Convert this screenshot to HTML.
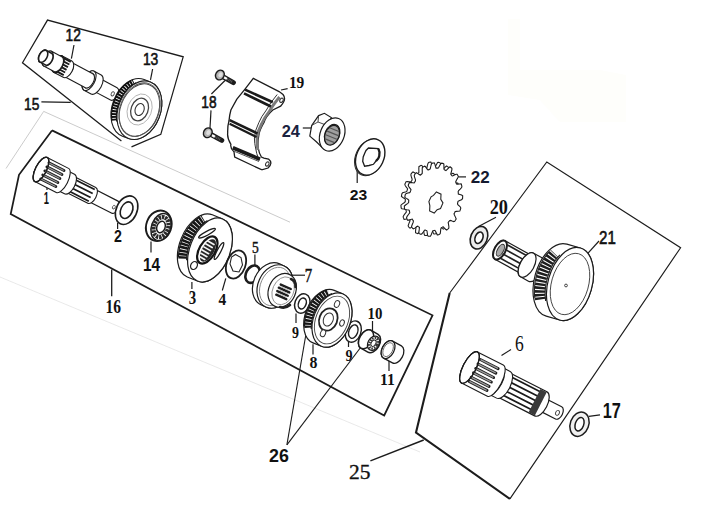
<!DOCTYPE html><html><head><meta charset="utf-8"><style>html,body{margin:0;padding:0;background:#fff;width:710px;height:512px;overflow:hidden}svg{display:block}</style></head><body><svg width="710" height="512" viewBox="0 0 710 512"><path d="M508,19 L520,19 L520,70 L600,70 L626,75 L626,122 L560,122 L540,100 L508,95 Z" fill="#fefefb" stroke="none"/><polyline points="6,168.5 43.7,111.4 290,222.2" fill="none" stroke="#a8a8a8" stroke-width="0.6" stroke-linejoin="miter" /><polyline points="0,277 420,452" fill="none" stroke="#d2d2d2" stroke-width="0.5" stroke-linejoin="miter" /><polyline points="121.4,141.1 22.5,62.8 47.5,20.1 183.2,56.8 160.8,134.4 131.5,146.8" fill="none" stroke="#1c1c1c" stroke-width="1.25" stroke-linejoin="miter" /><line x1="41.4" y1="101.9" x2="70.7" y2="102.3" stroke="#1c1c1c" stroke-width="1.3" /><text x="0" y="0" transform="translate(24,110.33) scale(0.79,1)" font-family="Liberation Sans" font-weight="normal" font-size="17.43" fill="#111" stroke="#111" stroke-width="0.6">15</text><line x1="74" y1="45" x2="71.4" y2="58.6" stroke="#1c1c1c" stroke-width="1.2" /><text x="0" y="0" transform="translate(65.5,41) scale(0.79,1)" font-family="Liberation Sans" font-weight="normal" font-size="17.43" fill="#111" stroke="#111" stroke-width="0.6">12</text><line x1="152.6" y1="69" x2="150.5" y2="79.8" stroke="#1c1c1c" stroke-width="1.2" /><text x="0" y="0" transform="translate(142.9,64.63) scale(0.82,1)" font-family="Liberation Sans" font-weight="normal" font-size="16.9" fill="#111" stroke="#111" stroke-width="0.6">13</text><polyline points="52,130.4 432.5,315.3 384.2,415.5 10.7,214 19,174.8 52,130.4" fill="none" stroke="#1c1c1c" stroke-width="1.75" stroke-linejoin="miter" /><line x1="111.7" y1="269.6" x2="111.7" y2="296.2" stroke="#1c1c1c" stroke-width="1.3" /><text x="0" y="0" transform="translate(105.4,312.52) scale(0.86,1)" font-family="Liberation Serif" font-weight="bold" font-size="18.06" fill="#111">16</text><polyline points="449.7,293 546.8,162 680.6,247.7 509.9,498.9" fill="none" stroke="#1c1c1c" stroke-width="1.15" stroke-linejoin="miter" /><polyline points="449.7,293 416,432.5 509.9,498.9" fill="none" stroke="#1c1c1c" stroke-width="2.1" stroke-linejoin="miter" /><line x1="370.4" y1="460.9" x2="423.7" y2="440" stroke="#1c1c1c" stroke-width="1.5" /><text x="0" y="0" transform="translate(348.9,478.9) scale(1.05,1)" font-family="Liberation Serif" font-weight="normal" font-size="20.45" fill="#111" stroke="#111" stroke-width="0.35">25</text><text x="0" y="0" transform="translate(43.8,203.7) scale(0.55,1)" font-family="Liberation Sans" font-weight="bold" font-size="16.96" fill="#111">1</text><line x1="47" y1="184.7" x2="47" y2="190" stroke="#1c1c1c" stroke-width="1.2" /><text x="0" y="0" transform="translate(114.1,242.1) scale(0.85,1)" font-family="Liberation Sans" font-weight="bold" font-size="16.71" fill="#111">2</text><line x1="117.6" y1="223" x2="117.6" y2="229" stroke="#1c1c1c" stroke-width="1.2" /><text x="0" y="0" transform="translate(142.9,270.9) scale(0.87,1)" font-family="Liberation Sans" font-weight="bold" font-size="17.68" fill="#111">14</text><line x1="151" y1="241.4" x2="151" y2="252.6" stroke="#1c1c1c" stroke-width="1.2" /><text x="0" y="0" transform="translate(188.8,303.52) scale(0.83,1)" font-family="Liberation Serif" font-weight="bold" font-size="17.91" fill="#111">3</text><line x1="191.9" y1="281.9" x2="191.9" y2="289" stroke="#1c1c1c" stroke-width="1.2" /><text x="0" y="0" transform="translate(218.4,304.7) scale(0.88,1)" font-family="Liberation Serif" font-weight="bold" font-size="17.58" fill="#111">4</text><line x1="225.8" y1="278.4" x2="222.3" y2="290.5" stroke="#1c1c1c" stroke-width="1.2" /><text x="0" y="0" transform="translate(251.9,253.03) scale(0.81,1)" font-family="Liberation Serif" font-weight="normal" font-size="16.69" fill="#111" stroke="#111" stroke-width="0.45">5</text><line x1="254.9" y1="254.5" x2="254.9" y2="265.5" stroke="#1c1c1c" stroke-width="1.2" /><text x="0" y="0" transform="translate(304.7,282.3) scale(0.83,1)" font-family="Liberation Serif" font-weight="normal" font-size="17.86" fill="#111" stroke="#111" stroke-width="0.45">7</text><line x1="291.9" y1="275.2" x2="305" y2="275.2" stroke="#1c1c1c" stroke-width="1.2" /><text x="0" y="0" transform="translate(292,337.63) scale(0.82,1)" font-family="Liberation Serif" font-weight="bold" font-size="17.01" fill="#111">9</text><line x1="296" y1="313.5" x2="296" y2="323" stroke="#1c1c1c" stroke-width="1.2" /><text x="0" y="0" transform="translate(309.6,368.33) scale(0.94,1)" font-family="Liberation Serif" font-weight="bold" font-size="16.89" fill="#111">8</text><line x1="313" y1="344.3" x2="313" y2="354.5" stroke="#1c1c1c" stroke-width="1.2" /><text x="0" y="0" transform="translate(345.6,361.33) scale(0.83,1)" font-family="Liberation Serif" font-weight="bold" font-size="17.01" fill="#111">9</text><line x1="348.5" y1="341" x2="348.5" y2="347" stroke="#1c1c1c" stroke-width="1.2" /><text x="0" y="0" transform="translate(367.6,319.13) scale(0.88,1)" font-family="Liberation Serif" font-weight="bold" font-size="16.89" fill="#111">10</text><line x1="372.5" y1="321" x2="372.5" y2="331.6" stroke="#1c1c1c" stroke-width="1.2" /><text x="0" y="0" transform="translate(379.9,385.2) scale(0.91,1)" font-family="Liberation Serif" font-weight="bold" font-size="17.27" fill="#111">11</text><line x1="389" y1="360" x2="389" y2="371" stroke="#1c1c1c" stroke-width="1.2" /><text x="0" y="0" transform="translate(269,461.91) scale(0.96,1)" font-family="Liberation Sans" font-weight="bold" font-size="18.59" fill="#111">26</text><line x1="286.9" y1="444.8" x2="306.5" y2="331" stroke="#1c1c1c" stroke-width="1.1" /><line x1="286.9" y1="444.8" x2="365.5" y2="341" stroke="#1c1c1c" stroke-width="1.1" /><text x="0" y="0" transform="translate(201.3,107.54) scale(0.84,1)" font-family="Liberation Sans" font-weight="normal" font-size="16.34" fill="#111" stroke="#111" stroke-width="0.6">18</text><line x1="211.4" y1="94" x2="225" y2="80.5" stroke="#1c1c1c" stroke-width="1.2" /><line x1="211" y1="110.4" x2="210" y2="128" stroke="#1c1c1c" stroke-width="1.2" /><text x="0" y="0" transform="translate(288.9,87.82) scale(0.87,1)" font-family="Liberation Serif" font-weight="bold" font-size="17.76" fill="#111">19</text><line x1="281" y1="90" x2="287.6" y2="88.7" stroke="#1c1c1c" stroke-width="1.2" /><text x="0" y="0" transform="translate(281.7,136.6) scale(0.99,1)" font-family="Liberation Sans" font-weight="bold" font-size="16.57" fill="#1a2240">24</text><line x1="302.8" y1="128" x2="311" y2="128" stroke="#1c1c1c" stroke-width="1.2" /><text x="0" y="0" transform="translate(349.8,200.45) scale(1.03,1)" font-family="Liberation Sans" font-weight="bold" font-size="15.21" fill="#111">23</text><line x1="357.2" y1="170" x2="357.2" y2="183" stroke="#1c1c1c" stroke-width="1.2" /><text x="0" y="0" transform="translate(470.7,182.7) scale(1,1)" font-family="Liberation Sans" font-weight="bold" font-size="17" fill="#141a30">22</text><line x1="458.4" y1="176.9" x2="466" y2="176.9" stroke="#1c1c1c" stroke-width="1.2" /><text x="0" y="0" transform="translate(489.7,213.99) scale(0.85,1)" font-family="Liberation Serif" font-weight="bold" font-size="21.48" fill="#111">20</text><line x1="496" y1="217.3" x2="478" y2="226.7" stroke="#1c1c1c" stroke-width="1.2" /><text x="0" y="0" transform="translate(599,243.7) scale(0.79,1)" font-family="Liberation Sans" font-weight="normal" font-size="19.14" fill="#111" stroke="#111" stroke-width="0.6">21</text><line x1="586.9" y1="254.4" x2="599" y2="241" stroke="#1c1c1c" stroke-width="1.2" /><text x="0" y="0" transform="translate(515,350.51) scale(0.74,1)" font-family="Liberation Serif" font-weight="normal" font-size="23.66" fill="#111">6</text><line x1="501.5" y1="355.5" x2="511" y2="349.5" stroke="#1c1c1c" stroke-width="1.2" /><text x="0" y="0" transform="translate(602.7,417.5) scale(0.74,1)" font-family="Liberation Sans" font-weight="bold" font-size="22.03" fill="#111">17</text><line x1="588.9" y1="416.4" x2="600" y2="414.8" stroke="#1c1c1c" stroke-width="1.2" /><g transform="translate(42.3,55.8) rotate(28)"><path d="M61,-7 L81,-7 A4.2,7 0 0 1 81,7 L61,7 A4.2,7 0 0 1 61,-7 Z" fill="#fff" stroke="#1c1c1c" stroke-width="1.1"/><ellipse cx="61" cy="0" rx="4.2" ry="7" fill="#fff" stroke="#1c1c1c" stroke-width="1.1"/><ellipse cx="80" cy="0.5" rx="1.5" ry="2.2" fill="none" stroke="#444" stroke-width="0.9"/><path d="M53,-10.8 L61,-10.8 A5.5,10.8 0 0 1 61,10.8 L53,10.8 A5.5,10.8 0 0 1 53,-10.8 Z" fill="#fff" stroke="#1c1c1c" stroke-width="1.1"/><ellipse cx="53" cy="0" rx="5.5" ry="10.8" fill="#fff" stroke="#1c1c1c" stroke-width="1.1"/><ellipse cx="53" cy="0" rx="4" ry="8.6" fill="none" stroke="#555" stroke-width="0.7"/><path d="M28.6,-7.9 L53,-7.9 A4.5,7.9 0 0 1 53,7.9 L28.6,7.9 A4.5,7.9 0 0 1 28.6,-7.9 Z" fill="#fff" stroke="#1c1c1c" stroke-width="1.1"/><ellipse cx="28.6" cy="0" rx="4.5" ry="7.9" fill="#fff" stroke="#1c1c1c" stroke-width="1.1"/><path d="M17.7,-9.2 L28.6,-9.2 A5,9.2 0 0 1 28.6,9.2 L17.7,9.2 A5,9.2 0 0 1 17.7,-9.2 Z" fill="#fff" stroke="#1c1c1c" stroke-width="1.1"/><ellipse cx="17.7" cy="0" rx="5" ry="9.2" fill="#fff" stroke="#1c1c1c" stroke-width="1.1"/><path d="M19,-8 L28,-8 M18,-5 L28,-5 M17.5,-2 L28,-2 M17.5,1 L28,1 M18,4 L28,4 M19,7 L28,7" stroke="#1a1a1a" stroke-width="1.9"/><ellipse cx="17.7" cy="0" rx="5" ry="9.2" fill="none" stroke="#1c1c1c" stroke-width="1.1"/><path d="M6,-8.3 L17.7,-8.3 A4.6,8.3 0 0 1 17.7,8.3 L6,8.3 A4.6,8.3 0 0 1 6,-8.3 Z" fill="#fff" stroke="#1c1c1c" stroke-width="1.1"/><ellipse cx="6" cy="0" rx="4.6" ry="8.3" fill="#fff" stroke="#1c1c1c" stroke-width="1.1"/><path d="M1,-6.6 L7,-6.6 A3.9,6.6 0 0 1 7,6.6 L1,6.6 A3.9,6.6 0 0 1 1,-6.6 Z" fill="#fff" stroke="#1c1c1c" stroke-width="1.6"/><ellipse cx="1" cy="0" rx="3.9" ry="6.6" fill="#fff" stroke="#1c1c1c" stroke-width="1.6"/></g><g transform="translate(139.4,110.2) rotate(21)"><path d="M-6.5,-30.3 L0,-30.3 A21,30.3 0 0 1 0,30.3 L-6.5,30.3 A21,30.3 0 0 1 -6.5,-30.3 Z" fill="#fff" stroke="#1c1c1c" stroke-width="1.1"/><path d="M-19.8,18.65 A21,30.3 0 0 1 -15.59,-24.51" fill="none" stroke="#101010" stroke-width="5.5" stroke-dasharray="2 0.8"/><path d="M-17.2,18.65 A21,30.3 0 0 1 -12.99,-24.51" fill="none" stroke="#101010" stroke-width="1.1"/><path d="M-22.4,18.65 A21,30.3 0 0 1 -18.19,-24.51" fill="none" stroke="#101010" stroke-width="1.1"/><ellipse cx="0" cy="0" rx="21" ry="30.3" fill="#fff" stroke="#1c1c1c" stroke-width="1.1"/><ellipse cx="0" cy="0" rx="18.9" ry="27.27" fill="none" stroke="#444" stroke-width="0.9"/></g><g transform="translate(139.6,109.5) rotate(21)"><ellipse rx="19.5" ry="27.5" fill="none" stroke="#555" stroke-width="0.9"/><ellipse rx="12" ry="16" fill="none" stroke="#aaa" stroke-width="0.8"/><ellipse rx="8.5" ry="11.7" fill="#fff" stroke="#444" stroke-width="1.3"/><ellipse rx="4.4" ry="6.2" fill="#fff" stroke="#333" stroke-width="1.1"/></g><g transform="translate(41,169.5) rotate(27)"><path d="M57,-6.8 L83,-6.8 A3.6,6.8 0 0 1 83,6.8 L57,6.8 A3.6,6.8 0 0 1 57,-6.8 Z" fill="#fff" stroke="#1c1c1c" stroke-width="1.2"/><ellipse cx="57" cy="0" rx="3.6" ry="6.8" fill="#fff" stroke="#1c1c1c" stroke-width="1.2"/><ellipse cx="82" cy="0.5" rx="1.3" ry="2" fill="none" stroke="#444" stroke-width="0.8"/><path d="M31,-8.8 L57,-8.8 A4.5,8.8 0 0 1 57,8.8 L31,8.8 A4.5,8.8 0 0 1 31,-8.8 Z" fill="#fff" stroke="#1c1c1c" stroke-width="1.1"/><ellipse cx="31" cy="0" rx="4.5" ry="8.8" fill="#fff" stroke="#1c1c1c" stroke-width="1.1"/><path d="M33,-6.5 L57,-6.5 M33,-2 L57,-2 M33,2.5 L57,2.5 M34,6.5 L57,6.5" stroke="#1a1a1a" stroke-width="1.7"/><path d="M23,-11 L32,-11 A5.5,11 0 0 1 32,11 L23,11 A5.5,11 0 0 1 23,-11 Z" fill="#fff" stroke="#1c1c1c" stroke-width="1.1"/><ellipse cx="23" cy="0" rx="5.5" ry="11" fill="#fff" stroke="#1c1c1c" stroke-width="1.1"/><path d="M0,-13.5 L24,-13.5 A5.5,13.5 0 0 1 24,13.5 L0,13.5 A5.5,13.5 0 0 1 0,-13.5 Z" fill="#fff" stroke="#1c1c1c" stroke-width="1.1"/><ellipse cx="0" cy="0" rx="5.5" ry="13.5" fill="#fff" stroke="#1c1c1c" stroke-width="1.1"/><line x1="4" y1="-9.5" x2="21" y2="-9.5" stroke="#1c1c1c" stroke-width="2.8" stroke-linecap="round"/><line x1="4.8" y1="-9.5" x2="20.2" y2="-9.5" stroke="#9a9a9a" stroke-width="1.1999999999999997" stroke-linecap="round"/><line x1="4" y1="-5" x2="21" y2="-5" stroke="#1c1c1c" stroke-width="2.8" stroke-linecap="round"/><line x1="4.8" y1="-5" x2="20.2" y2="-5" stroke="#9a9a9a" stroke-width="1.1999999999999997" stroke-linecap="round"/><line x1="4" y1="-0.5" x2="21" y2="-0.5" stroke="#1c1c1c" stroke-width="2.8" stroke-linecap="round"/><line x1="4.8" y1="-0.5" x2="20.2" y2="-0.5" stroke="#9a9a9a" stroke-width="1.1999999999999997" stroke-linecap="round"/><line x1="4" y1="4" x2="21" y2="4" stroke="#1c1c1c" stroke-width="2.8" stroke-linecap="round"/><line x1="4.8" y1="4" x2="20.2" y2="4" stroke="#9a9a9a" stroke-width="1.1999999999999997" stroke-linecap="round"/><line x1="4" y1="8.5" x2="21" y2="8.5" stroke="#1c1c1c" stroke-width="2.8" stroke-linecap="round"/><line x1="4.8" y1="8.5" x2="20.2" y2="8.5" stroke="#9a9a9a" stroke-width="1.1999999999999997" stroke-linecap="round"/><ellipse cx="0" cy="0" rx="5.5" ry="13.5" fill="none" stroke="#1c1c1c" stroke-width="1.4"/></g><g transform="translate(126.6,210.2) rotate(25)"><ellipse rx="10.3" ry="15" fill="#fff" stroke="#1c1c1c" stroke-width="1.6"/><ellipse rx="5.8" ry="8.7" fill="#fff" stroke="#1c1c1c" stroke-width="1.6"/></g><g transform="translate(158.8,225.8) rotate(20)"><ellipse rx="12.5" ry="15.6" fill="#fff" stroke="#1c1c1c" stroke-width="1.9"/><ellipse rx="0.1" ry="0.1" fill="#fff" stroke="#1c1c1c" stroke-width="1.9"/></g><g transform="translate(161,227) rotate(20)"><ellipse rx="9.5" ry="14" fill="#fff" stroke="#1c1c1c" stroke-width="1.5"/><ellipse rx="7.2" ry="10.2" fill="none" stroke="#2a2a2a" stroke-width="4.4" stroke-dasharray="2.4 0.8"/><ellipse rx="4.1" ry="6" fill="#fff" stroke="#1c1c1c" stroke-width="1.5"/></g><g transform="translate(210,250) rotate(22)"><path d="M-11,-33.5 L0,-33.5 A20,33.5 0 0 1 0,33.5 L-11,33.5 A20,33.5 0 0 1 -11,-33.5 Z" fill="#fff" stroke="#1c1c1c" stroke-width="1.2"/><path d="M-22.27,18.25 A20,33.5 0 0 1 -17.81,-26.4" fill="none" stroke="#161616" stroke-width="8.5" stroke-dasharray="2.5 0.75"/><path d="M-17.87,18.25 A20,33.5 0 0 1 -13.41,-26.4" fill="none" stroke="#161616" stroke-width="1.1"/><path d="M-26.67,18.25 A20,33.5 0 0 1 -22.21,-26.4" fill="none" stroke="#161616" stroke-width="1.1"/><ellipse cx="0" cy="0" rx="20" ry="33.5" fill="#fff" stroke="#1c1c1c" stroke-width="1.2"/></g><g transform="translate(207.3,250) rotate(30)"><ellipse rx="8" ry="15" fill="#fff" stroke="#141414" stroke-width="2.2"/><ellipse cx="0.8" rx="6" ry="12.5" fill="#262626" stroke="none"/><path d="M-4,-8 L3,-8 M-4.5,-4.5 L3,-4.5 M-4.5,-1 L3,-1 M-4.5,2.5 L3,2.5 M-4,6 L3,6 M-3,9.5 L2.5,9.5" stroke="#f4f4f4" stroke-width="1.7" stroke-linecap="round"/></g><ellipse cx="0" cy="0" rx="9.5" ry="1.9" transform="translate(207,233.3) rotate(-28)" fill="#fff" stroke="#1c1c1c" stroke-width="1.2" /><ellipse cx="0" cy="0" rx="9.5" ry="1.9" transform="translate(219,251) rotate(-62)" fill="#fff" stroke="#1c1c1c" stroke-width="1.2" /><ellipse cx="0" cy="0" rx="3.2" ry="4.2" transform="translate(194,265.5) rotate(30)" fill="#fff" stroke="#222" stroke-width="1.2" /><g transform="translate(236,264.5) rotate(20)"><ellipse rx="9.4" ry="14.6" fill="#fff" stroke="#1c1c1c" stroke-width="1.8"/><ellipse rx="0.1" ry="0.1" fill="#fff" stroke="#1c1c1c" stroke-width="1.8"/></g><polygon points="235.5,254.5 241,257.5 242.5,265 239,272 233,271 230,264 231.5,257" fill="#fff" stroke="#222" stroke-width="1.1"/><ellipse cx="0" cy="0" rx="6.6" ry="9.2" transform="translate(252.6,274.2) rotate(28)" fill="none" stroke="#1c1c1c" stroke-width="2.6" /><g transform="translate(275,286.5) rotate(24)"><path d="M-5,-22.5 L0,-22.5 A17,22.5 0 0 1 0,22.5 L-5,22.5 A17,22.5 0 0 1 -5,-22.5 Z" fill="#fff" stroke="#1c1c1c" stroke-width="1.2"/><ellipse rx="17" ry="22.5" fill="#fff" stroke="#1c1c1c" stroke-width="1.2"/><ellipse rx="14.5" ry="20" fill="none" stroke="#777" stroke-width="0.8"/></g><g transform="translate(282.2,290.4) rotate(24)"><ellipse rx="13.5" ry="17.5" fill="#fff" stroke="#1c1c1c" stroke-width="1.2"/><ellipse cx="1" rx="10.5" ry="14.5" fill="none" stroke="#888" stroke-width="0.8"/></g><g transform="translate(284,292) rotate(24)"><path d="M-6,-5.5 L5,-5.5 M-6.5,-1.8 L5,-1.8 M-6.5,1.9 L5,1.9 M-6,5.6 L5,5.6" stroke="#1e1e1e" stroke-width="2.4" stroke-linecap="round"/><path d="M-5,-3.6 L4,-3.6 M-5.5,0 L4,0 M-5,3.7 L4,3.7" stroke="#bbb" stroke-width="1" stroke-linecap="round"/></g><path d="M291,279 Q296,281 295.5,287" fill="none" stroke="#222" stroke-width="2.6" stroke-linecap="round"/><path d="M280,307 Q285,309 290,305" fill="none" stroke="#222" stroke-width="2.6" stroke-linecap="round"/><g transform="translate(302.3,303.5) rotate(20)"><ellipse rx="7.4" ry="10" fill="#fff" stroke="#1c1c1c" stroke-width="1.5"/><ellipse rx="3.8" ry="5.6" fill="#fff" stroke="#1c1c1c" stroke-width="1.5"/></g><g transform="translate(353.3,331.6) rotate(20)"><ellipse rx="7.6" ry="11" fill="#fff" stroke="#1c1c1c" stroke-width="1.4"/><ellipse rx="4.4" ry="7" fill="#fff" stroke="#1c1c1c" stroke-width="1.4"/></g><g transform="translate(332,320) rotate(22)"><path d="M-9,-28.3 L0,-28.3 A18.3,28.3 0 0 1 0,28.3 L-9,28.3 A18.3,28.3 0 0 1 -9,-28.3 Z" fill="#fff" stroke="#1c1c1c" stroke-width="1.2"/><path d="M-19.49,16.23 A18.3,28.3 0 0 1 -13.65,-24.51" fill="none" stroke="#161616" stroke-width="7" stroke-dasharray="2.3 0.8"/><path d="M-15.89,16.23 A18.3,28.3 0 0 1 -10.05,-24.51" fill="none" stroke="#161616" stroke-width="1.1"/><path d="M-23.09,16.23 A18.3,28.3 0 0 1 -17.25,-24.51" fill="none" stroke="#161616" stroke-width="1.1"/><ellipse cx="0" cy="0" rx="18.3" ry="28.3" fill="#fff" stroke="#1c1c1c" stroke-width="1.2"/><ellipse cx="0" cy="0" rx="16.1" ry="24.9" fill="none" stroke="#444" stroke-width="0.9"/></g><g transform="translate(328.3,319.5) rotate(22)"><ellipse rx="9" ry="11.5" fill="#fff" stroke="#222" stroke-width="1.8"/><ellipse rx="4.8" ry="6.8" fill="#fff" stroke="#333" stroke-width="1"/></g><ellipse cx="0" cy="0" rx="2.5" ry="3.5" transform="translate(337,304) rotate(22)" fill="#fff" stroke="#333" stroke-width="1" /><ellipse cx="0" cy="0" rx="2.5" ry="3.5" transform="translate(323,333.3) rotate(22)" fill="#fff" stroke="#333" stroke-width="1" /><ellipse cx="0" cy="0" rx="2.2" ry="3.2" transform="translate(342,323) rotate(22)" fill="#fff" stroke="#333" stroke-width="1" /><g transform="translate(369.5,341.3) rotate(30)"><path d="M-4,-10.3 L4,-10.3 A6.5,10.3 0 0 1 4,10.3 L-4,10.3 A6.5,10.3 0 0 1 -4,-10.3 Z" fill="#fff" stroke="#1c1c1c" stroke-width="1.5"/><ellipse cx="-4" rx="6.5" ry="10.3" fill="#fff" stroke="#1c1c1c" stroke-width="1.5"/></g><g transform="translate(373.5,343.2) rotate(30)"><ellipse rx="5.5" ry="7.6" fill="#fff" stroke="#1c1c1c" stroke-width="1.3"/><ellipse rx="3.8" ry="5.6" fill="none" stroke="#333" stroke-width="2.4" stroke-dasharray="1.5 1"/><ellipse rx="2.2" ry="3.4" fill="#fff" stroke="#222" stroke-width="1"/></g><g transform="translate(392.5,352) rotate(28)"><path d="M-5,-9.6 L5,-9.6 A6,9.6 0 0 1 5,9.6 L-5,9.6 A6,9.6 0 0 1 -5,-9.6 Z" fill="#fff" stroke="#1c1c1c" stroke-width="1.3"/><ellipse cx="-5" cy="0" rx="6" ry="9.6" fill="#fff" stroke="#1c1c1c" stroke-width="1.3"/><ellipse cx="-5" rx="4.5" ry="7.5" fill="none" stroke="#555" stroke-width="0.8"/></g><line x1="219.9" y1="75" x2="233.4" y2="82.6" stroke="#1c1c1c" stroke-width="5" stroke-linecap="round"/><line x1="222.9" y1="76.6" x2="232.4" y2="82.0" stroke="#666" stroke-width="2.4" stroke-dasharray="0.9 0.7"/><line x1="221.9" y1="76.2" x2="226.9" y2="78.9" stroke="#fff" stroke-width="2.2"/><ellipse cx="0" cy="0" rx="4.2" ry="5" transform="translate(219.9,75) rotate(30)" fill="#b4b4b4" stroke="#1c1c1c" stroke-width="1.4" /><ellipse cx="0" cy="0" rx="2" ry="2.6" transform="translate(220.5,74.7) rotate(30)" fill="#dedede" stroke="none" stroke-width="0" /><line x1="207.8" y1="132.8" x2="221.8" y2="140.4" stroke="#1c1c1c" stroke-width="5" stroke-linecap="round"/><line x1="210.8" y1="134.4" x2="220.8" y2="139.8" stroke="#666" stroke-width="2.4" stroke-dasharray="0.9 0.7"/><line x1="209.8" y1="134.0" x2="214.8" y2="136.70000000000002" stroke="#fff" stroke-width="2.2"/><ellipse cx="0" cy="0" rx="4.2" ry="5" transform="translate(207.8,132.8) rotate(30)" fill="#b4b4b4" stroke="#1c1c1c" stroke-width="1.4" /><ellipse cx="0" cy="0" rx="2" ry="2.6" transform="translate(208.4,132.5) rotate(30)" fill="#dedede" stroke="none" stroke-width="0" /><path d="M253.3,78.4 L279.1,91.6 L283,94.5 Q287,99.5 280.6,106.2 L272.8,110 Q266,116 263.9,122.7 Q259.5,130 258.8,135.4 Q257.5,142 258.2,148 Q259,153 261.4,157 L263.9,158.2 L268.5,159 Q273.5,163 268,168 L262.6,169.7 L261.4,169.7 L234.7,157 L234,151.9 Q230,148 230.9,144.3 Q227,138 227.7,132.9 Q227.5,126 229,120.8 Q229.5,115 230.9,110 L236.7,99.4 L245,89.1 Z" fill="#fff" stroke="#1c1c1c" stroke-width="1.3"/><path d="M277.2,94.5 Q270,103 266.4,110 Q261,117 258.8,122.7 Q255,130 254.4,138 Q254.5,144 255.6,148 Q256.5,154 258.5,158.5" fill="none" stroke="#333" stroke-width="1"/><path d="M279.5,97 Q273,105 269.5,111 Q264,118 261.5,124 Q257.5,131 257,138 Q256.8,145 257.8,150" fill="none" stroke="#7a7a7a" stroke-width="2.8"/><path d="M245,89.6 L272.8,102.3" stroke="#1a1a1a" stroke-width="2.6"/><path d="M244,93.3 L270.9,106.5" stroke="#1a1a1a" stroke-width="2.6"/><path d="M229.6,120.2 L257.5,133.5" stroke="#1a1a1a" stroke-width="2.6"/><path d="M229.6,123.8 L256.5,137" stroke="#1a1a1a" stroke-width="2.2"/><path d="M232.8,147.8 L260,159.2" stroke="#1a1a1a" stroke-width="3.8"/><path d="M234,151.2 L259,161.5" stroke="#555" stroke-width="1"/><ellipse cx="0" cy="0" rx="1.6" ry="2.3" transform="translate(281.5,100.3) rotate(30)" fill="#fff" stroke="#333" stroke-width="1.1" /><ellipse cx="0" cy="0" rx="1.6" ry="2.3" transform="translate(267.3,164) rotate(30)" fill="#fff" stroke="#333" stroke-width="1.1" /><polygon points="318.6,115.6 324.4,113.3 331.3,117.6 334,130 330,144 321.5,146.9 316.6,142 309.8,136.1 311.7,125.4" fill="#fff" stroke="#1c1c1c" stroke-width="1.2"/><path d="M318.6,115.6 L318,122 L311.7,125.4 M318,122 L326,125 L324,140 L321.5,146.9 M326,125 L331.3,117.6" fill="none" stroke="#333" stroke-width="0.9"/><g transform="translate(332.2,134.5) rotate(22)"><ellipse rx="12" ry="17.2" fill="#fff" stroke="#1c1c1c" stroke-width="1.2"/><ellipse rx="7.2" ry="10.5" fill="#fff" stroke="#1c1c1c" stroke-width="1.2"/></g><g transform="translate(332,135.2) rotate(22)"><ellipse rx="7" ry="10.3" fill="#a0a0a0" stroke="#1c1c1c" stroke-width="1.3"/><path d="M-5,-6 L5,-6 M-6,-2 L6,-2 M-6,2 L6,2 M-5,6 L5,6" stroke="#555" stroke-width="1.2"/></g><ellipse cx="0" cy="0" rx="13.6" ry="19" transform="translate(369.2,157.5) rotate(25)" fill="#fff" stroke="#333" stroke-width="1.0" /><g transform="translate(370.2,157) rotate(25)"><ellipse rx="13.6" ry="19" fill="#fff" stroke="#1c1c1c" stroke-width="1.4"/><ellipse rx="0.1" ry="0.1" fill="#fff" stroke="#1c1c1c" stroke-width="1.4"/></g><polygon points="368.5,148 378.3,148.7 379.5,152 379.3,156 378.3,158.4 376,161 373.4,164.3 369,165.5 364.6,166.2 362.7,161.3 363.2,157 364.6,153.5 366,150.5" fill="#fff" stroke="#1c1c1c" stroke-width="1.3"/><path d="M378.3,148.7 L379.5,152 L379.3,156 L378.3,158.4 L376,161" fill="none" stroke="#1c1c1c" stroke-width="2.2"/><g transform="translate(433.5,199.5) rotate(14)"><path d="M23,0 L24.61,0.96 L25.08,1.95 L25.03,2.92 L24.96,3.89 L24.82,4.85 L23.2,5.51 L21.44,6.02 L20.35,6.6 L20.21,7.41 L20.05,8.21 L19.88,9.01 L20.71,10.24 L22.06,11.78 L23.22,13.35 L22.94,14.26 L22.65,15.16 L22.33,16.04 L21.48,16.57 L19.71,16.41 L17.98,16.15 L17.29,16.58 L16.95,17.29 L16.59,17.98 L16.33,18.75 L17.17,20.65 L18.04,22.71 L18.26,24.2 L17.77,24.93 L17.26,25.65 L16.74,26.35 L15.4,25.94 L13.76,24.96 L12.33,24.14 L11.84,24.67 L11.34,25.18 L10.83,25.68 L10.68,26.87 L11.03,29.13 L11.27,31.38 L10.81,32.27 L10.16,32.74 L9.49,33.2 L8.74,33.4 L7.42,31.94 L6.14,30.31 L5.24,29.63 L4.64,29.92 L4.03,30.19 L3.42,30.43 L3.13,32.22 L2.87,34.55 L2.45,36.45 L1.72,36.64 L0.98,36.8 L0.24,36.94 L-0.59,36.1 L-1.44,34.05 L-2.21,32.05 L-2.86,31.73 L-3.5,31.74 L-4.14,31.73 L-4.79,32.05 L-5.56,34.05 L-6.41,36.1 L-7.24,36.94 L-7.98,36.8 L-8.72,36.64 L-9.45,36.45 L-9.87,34.55 L-10.13,32.22 L-10.42,30.43 L-11.03,30.19 L-11.64,29.92 L-12.24,29.63 L-13.14,30.31 L-14.42,31.94 L-15.74,33.4 L-16.49,33.2 L-17.16,32.74 L-17.81,32.27 L-18.27,31.38 L-18.03,29.13 L-17.68,26.87 L-17.83,25.68 L-18.34,25.18 L-18.84,24.67 L-19.33,24.14 L-20.76,24.96 L-22.4,25.94 L-23.74,26.35 L-24.26,25.65 L-24.77,24.93 L-25.26,24.2 L-25.04,22.71 L-24.17,20.65 L-23.33,18.75 L-23.59,17.98 L-23.95,17.29 L-24.29,16.58 L-24.98,16.15 L-26.71,16.41 L-28.48,16.57 L-29.33,16.04 L-29.65,15.16 L-29.94,14.26 L-30.22,13.35 L-29.06,11.78 L-27.71,10.24 L-26.88,9.01 L-27.05,8.21 L-27.21,7.41 L-27.35,6.6 L-28.44,6.02 L-30.2,5.51 L-31.82,4.85 L-31.96,3.89 L-32.03,2.92 L-32.08,1.95 L-31.61,0.96 L-30,0 L-28.37,-0.85 L-27.85,-1.66 L-27.8,-2.49 L-27.75,-3.32 L-27.73,-4.15 L-29.15,-5.29 L-30.67,-6.56 L-31.49,-7.75 L-31.33,-8.7 L-31.14,-9.64 L-30.94,-10.58 L-29.7,-11.08 L-27.9,-11.25 L-26.26,-11.37 L-26.02,-12.15 L-25.77,-12.91 L-25.51,-13.66 L-25.74,-14.75 L-26.87,-16.52 L-27.92,-18.35 L-27.9,-19.47 L-27.5,-20.29 L-27.09,-21.1 L-26.55,-21.8 L-24.88,-21.35 L-23.15,-20.72 L-22.04,-20.61 L-21.62,-21.24 L-21.18,-21.85 L-20.74,-22.44 L-21.08,-24.12 L-21.7,-26.32 L-22.09,-28.33 L-21.51,-28.96 L-20.92,-29.56 L-20.32,-30.14 L-19.34,-30 L-17.84,-28.74 L-16.42,-27.45 L-15.69,-27.49 L-15.13,-27.89 L-14.57,-28.28 L-14.08,-28.88 L-14.13,-31.1 L-14.14,-33.44 L-13.76,-34.79 L-13.05,-35.12 L-12.34,-35.44 L-11.63,-35.73 L-10.59,-34.43 L-9.5,-32.54 L-8.57,-31.05 L-7.94,-31.21 L-7.31,-31.35 L-6.68,-31.47 L-6.13,-32.52 L-5.6,-34.74 L-4.98,-36.85 L-4.25,-37.25 L-3.5,-37.26 L-2.75,-37.25 L-2.02,-36.85 L-1.4,-34.74 L-0.87,-32.52 L-0.32,-31.47 L0.31,-31.35 L0.94,-31.21 L1.57,-31.05 L2.5,-32.54 L3.59,-34.43 L4.63,-35.73 L5.34,-35.44 L6.05,-35.12 L6.76,-34.79 L7.14,-33.44 L7.13,-31.1 L7.08,-28.88 L7.57,-28.28 L8.13,-27.89 L8.69,-27.49 L9.42,-27.45 L10.84,-28.74 L12.34,-30 L13.32,-30.14 L13.92,-29.56 L14.51,-28.96 L15.09,-28.33 L14.7,-26.32 L14.08,-24.12 L13.74,-22.44 L14.18,-21.85 L14.62,-21.24 L15.04,-20.61 L16.15,-20.72 L17.88,-21.35 L19.55,-21.8 L20.09,-21.1 L20.5,-20.29 L20.9,-19.47 L20.92,-18.35 L19.87,-16.52 L18.74,-14.75 L18.51,-13.66 L18.77,-12.91 L19.02,-12.15 L19.26,-11.37 L20.9,-11.25 L22.7,-11.08 L23.94,-10.58 L24.14,-9.64 L24.33,-8.7 L24.49,-7.75 L23.67,-6.56 L22.15,-5.29 L20.73,-4.15 L20.75,-3.32 L20.8,-2.49 L20.85,-1.66 L21.37,-0.85 L23,-0Z" fill="#fff" stroke="#222" stroke-width="1.1"/><path d="M26.5,0 L28.11,0.96 L28.58,1.95 L28.53,2.92 L28.46,3.89 L28.32,4.85 L26.7,5.51 L24.94,6.02 L23.85,6.6 L23.71,7.41 L23.55,8.21 L23.38,9.01 L24.21,10.24 L25.56,11.78 L26.72,13.35 L26.44,14.26 L26.15,15.16 L25.83,16.04 L24.98,16.57 L23.21,16.41 L21.48,16.15 L20.79,16.58 L20.45,17.29 L20.09,17.98 L19.83,18.75 L20.67,20.65 L21.54,22.71 L21.76,24.2 L21.27,24.93 L20.76,25.65 L20.24,26.35 L18.9,25.94 L17.26,24.96 L15.83,24.14 L15.34,24.67 L14.84,25.18 L14.33,25.68 L14.18,26.87 L14.53,29.13 L14.77,31.38 L14.31,32.27 L13.66,32.74 L12.99,33.2 L12.24,33.4 L10.92,31.94 L9.64,30.31 L8.74,29.63 L8.14,29.92 L7.53,30.19 L6.92,30.43 L6.63,32.22 L6.37,34.55 L5.95,36.45 L5.22,36.64 L4.48,36.8 L3.74,36.94 L2.91,36.1 L2.06,34.05 L1.29,32.05 L0.64,31.73 L0,31.74 L-0.64,31.73 L-1.29,32.05 L-2.06,34.05 L-2.91,36.1 L-3.74,36.94 L-4.48,36.8 L-5.22,36.64 L-5.95,36.45 L-6.37,34.55 L-6.63,32.22 L-6.92,30.43 L-7.53,30.19 L-8.14,29.92 L-8.74,29.63 L-9.64,30.31 L-10.92,31.94 L-12.24,33.4 L-12.99,33.2 L-13.66,32.74 L-14.31,32.27 L-14.77,31.38 L-14.53,29.13 L-14.18,26.87 L-14.33,25.68 L-14.84,25.18 L-15.34,24.67 L-15.83,24.14 L-17.26,24.96 L-18.9,25.94 L-20.24,26.35 L-20.76,25.65 L-21.27,24.93 L-21.76,24.2 L-21.54,22.71 L-20.67,20.65 L-19.83,18.75 L-20.09,17.98 L-20.45,17.29 L-20.79,16.58 L-21.48,16.15 L-23.21,16.41 L-24.98,16.57 L-25.83,16.04 L-26.15,15.16 L-26.44,14.26 L-26.72,13.35 L-25.56,11.78 L-24.21,10.24 L-23.38,9.01 L-23.55,8.21 L-23.71,7.41 L-23.85,6.6 L-24.94,6.02 L-26.7,5.51 L-28.32,4.85 L-28.46,3.89 L-28.53,2.92 L-28.58,1.95 L-28.11,0.96 L-26.5,0 L-24.87,-0.85 L-24.35,-1.66 L-24.3,-2.49 L-24.25,-3.32 L-24.23,-4.15 L-25.65,-5.29 L-27.17,-6.56 L-27.99,-7.75 L-27.83,-8.7 L-27.64,-9.64 L-27.44,-10.58 L-26.2,-11.08 L-24.4,-11.25 L-22.76,-11.37 L-22.52,-12.15 L-22.27,-12.91 L-22.01,-13.66 L-22.24,-14.75 L-23.37,-16.52 L-24.42,-18.35 L-24.4,-19.47 L-24,-20.29 L-23.59,-21.1 L-23.05,-21.8 L-21.38,-21.35 L-19.65,-20.72 L-18.54,-20.61 L-18.12,-21.24 L-17.68,-21.85 L-17.24,-22.44 L-17.58,-24.12 L-18.2,-26.32 L-18.59,-28.33 L-18.01,-28.96 L-17.42,-29.56 L-16.82,-30.14 L-15.84,-30 L-14.34,-28.74 L-12.92,-27.45 L-12.19,-27.49 L-11.63,-27.89 L-11.07,-28.28 L-10.58,-28.88 L-10.63,-31.1 L-10.64,-33.44 L-10.26,-34.79 L-9.55,-35.12 L-8.84,-35.44 L-8.13,-35.73 L-7.09,-34.43 L-6,-32.54 L-5.07,-31.05 L-4.44,-31.21 L-3.81,-31.35 L-3.18,-31.47 L-2.63,-32.52 L-2.1,-34.74 L-1.48,-36.85 L-0.75,-37.25 L-0,-37.26 L0.75,-37.25 L1.48,-36.85 L2.1,-34.74 L2.63,-32.52 L3.18,-31.47 L3.81,-31.35 L4.44,-31.21 L5.07,-31.05 L6,-32.54 L7.09,-34.43 L8.13,-35.73 L8.84,-35.44 L9.55,-35.12 L10.26,-34.79 L10.64,-33.44 L10.63,-31.1 L10.58,-28.88 L11.07,-28.28 L11.63,-27.89 L12.19,-27.49 L12.92,-27.45 L14.34,-28.74 L15.84,-30 L16.82,-30.14 L17.42,-29.56 L18.01,-28.96 L18.59,-28.33 L18.2,-26.32 L17.58,-24.12 L17.24,-22.44 L17.68,-21.85 L18.12,-21.24 L18.54,-20.61 L19.65,-20.72 L21.38,-21.35 L23.05,-21.8 L23.59,-21.1 L24,-20.29 L24.4,-19.47 L24.42,-18.35 L23.37,-16.52 L22.24,-14.75 L22.01,-13.66 L22.27,-12.91 L22.52,-12.15 L22.76,-11.37 L24.4,-11.25 L26.2,-11.08 L27.44,-10.58 L27.64,-9.64 L27.83,-8.7 L27.99,-7.75 L27.17,-6.56 L25.65,-5.29 L24.23,-4.15 L24.25,-3.32 L24.3,-2.49 L24.35,-1.66 L24.87,-0.85 L26.5,-0Z" fill="#fff" stroke="#1c1c1c" stroke-width="1.1"/><path d="M1,-8 L6,-7 L7,-2 L10,1 L9,7 L6,9 L4,13 L-1,12 L-2,7 L-4,3 L-3,-2 L-1,-4 Z" fill="#fff" stroke="#222" stroke-width="1.1"/></g><g transform="translate(479,237.7) rotate(22)"><ellipse rx="8.3" ry="11.7" fill="#ececec" stroke="#1c1c1c" stroke-width="1.6"/><ellipse rx="3.8" ry="6" fill="#fff" stroke="#1c1c1c" stroke-width="1.6"/></g><g transform="translate(579.5,424.2) rotate(20)"><ellipse rx="9.2" ry="12.5" fill="#f0f0f0" stroke="#1c1c1c" stroke-width="1.5"/><ellipse rx="4.2" ry="7" fill="#fff" stroke="#1c1c1c" stroke-width="1.5"/></g><g transform="translate(500,250) rotate(29)"><path d="M0,-10.5 L31,-10.5 A5.5,10.5 0 0 1 31,10.5 L0,10.5 A5.5,10.5 0 0 1 0,-10.5 Z" fill="#fff" stroke="#1c1c1c" stroke-width="1.2"/><ellipse cx="0" cy="0" rx="5.5" ry="10.5" fill="#fff" stroke="#1c1c1c" stroke-width="2"/><ellipse cx="0.5" cy="0" rx="3" ry="6.5" fill="#aaa" stroke="#333" stroke-width="1"/><path d="M4,-8 L30,-8 M4,-3 L30,-3 M4,2 L30,2 M5,7 L30,7" stroke="#222" stroke-width="1.6"/><path d="M31,-13.5 L40,-13.5 A7,13.5 0 0 1 40,13.5 L31,13.5 A7,13.5 0 0 1 31,-13.5 Z" fill="#fff" stroke="#1c1c1c" stroke-width="1.2"/><ellipse cx="31" cy="0" rx="7" ry="13.5" fill="#fff" stroke="#1c1c1c" stroke-width="1.2"/></g><g transform="translate(570,284) rotate(16)"><path d="M-14,-37.5 L0,-37.5 A22,37.5 0 0 1 0,37.5 L-14,37.5 A22,37.5 0 0 1 -14,-37.5 Z" fill="#fff" stroke="#1c1c1c" stroke-width="1.2"/><path d="M-24.34,23.09 A22,37.5 0 0 1 -23.35,-25.09" fill="none" stroke="#1e1e1e" stroke-width="10.5" stroke-dasharray="2.4 1.1"/><path d="M-18.74,23.09 A22,37.5 0 0 1 -17.75,-25.09" fill="none" stroke="#1e1e1e" stroke-width="1.1"/><path d="M-29.94,23.09 A22,37.5 0 0 1 -28.95,-25.09" fill="none" stroke="#1e1e1e" stroke-width="1.1"/><ellipse cx="0" cy="0" rx="22" ry="37.5" fill="#fff" stroke="#1c1c1c" stroke-width="1.2"/><ellipse cx="0" cy="0" rx="18.48" ry="31.5" fill="none" stroke="#444" stroke-width="0.9"/></g><circle cx="566" cy="285.5" r="1.4" fill="none" stroke="#333" stroke-width="0.9"/><g transform="translate(469.5,367.5) rotate(27)"><path d="M80,-6.8 L100,-6.8 A4,6.8 0 0 1 100,6.8 L80,6.8 A4,6.8 0 0 1 80,-6.8 Z" fill="#fff" stroke="#1c1c1c" stroke-width="1.2"/><ellipse cx="80" cy="0" rx="4" ry="6.8" fill="#fff" stroke="#1c1c1c" stroke-width="1.2"/><ellipse cx="99" cy="0.5" rx="1.8" ry="2.6" fill="none" stroke="#444" stroke-width="0.9"/><path d="M38,-13.5 L80,-13.5 A6.5,13.5 0 0 1 80,13.5 L38,13.5 A6.5,13.5 0 0 1 38,-13.5 Z" fill="#fff" stroke="#1c1c1c" stroke-width="1.2"/><ellipse cx="38" cy="0" rx="6.5" ry="13.5" fill="#fff" stroke="#1c1c1c" stroke-width="1.2"/><path d="M40,-10.5 L79,-10.5 M40,-5.5 L79,-5.5 M40,-0.5 L79,-0.5 M40,4.5 L79,4.5 M41,9.5 L79,9.5" stroke="#1a1a1a" stroke-width="1.7"/><path d="M73,-13 L80,-13 L80,13 L73,13 Z" fill="#3a3a3a"/><path d="M29,-15 L38,-15 A7,15 0 0 1 38,15 L29,15 A7,15 0 0 1 29,-15 Z" fill="#fff" stroke="#1c1c1c" stroke-width="1.1"/><ellipse cx="29" cy="0" rx="7" ry="15" fill="#fff" stroke="#1c1c1c" stroke-width="1.1"/><path d="M0,-17.5 L29,-17.5 A6.5,17.5 0 0 1 29,17.5 L0,17.5 A6.5,17.5 0 0 1 0,-17.5 Z" fill="#fff" stroke="#1c1c1c" stroke-width="1.1"/><ellipse cx="0" cy="0" rx="6.5" ry="17.5" fill="#fff" stroke="#1c1c1c" stroke-width="1.1"/><line x1="6" y1="-12" x2="26" y2="-12" stroke="#1c1c1c" stroke-width="3" stroke-linecap="round"/><line x1="6.8" y1="-12" x2="25.2" y2="-12" stroke="#9a9a9a" stroke-width="1.4" stroke-linecap="round"/><line x1="6" y1="-7" x2="26" y2="-7" stroke="#1c1c1c" stroke-width="3" stroke-linecap="round"/><line x1="6.8" y1="-7" x2="25.2" y2="-7" stroke="#9a9a9a" stroke-width="1.4" stroke-linecap="round"/><line x1="6" y1="-2" x2="26" y2="-2" stroke="#1c1c1c" stroke-width="3" stroke-linecap="round"/><line x1="6.8" y1="-2" x2="25.2" y2="-2" stroke="#9a9a9a" stroke-width="1.4" stroke-linecap="round"/><line x1="6" y1="3" x2="26" y2="3" stroke="#1c1c1c" stroke-width="3" stroke-linecap="round"/><line x1="6.8" y1="3" x2="25.2" y2="3" stroke="#9a9a9a" stroke-width="1.4" stroke-linecap="round"/><line x1="6" y1="8" x2="26" y2="8" stroke="#1c1c1c" stroke-width="3" stroke-linecap="round"/><line x1="6.8" y1="8" x2="25.2" y2="8" stroke="#9a9a9a" stroke-width="1.4" stroke-linecap="round"/><line x1="6" y1="12.5" x2="26" y2="12.5" stroke="#1c1c1c" stroke-width="3" stroke-linecap="round"/><line x1="6.8" y1="12.5" x2="25.2" y2="12.5" stroke="#9a9a9a" stroke-width="1.4" stroke-linecap="round"/><ellipse cx="0" cy="0" rx="6.5" ry="17.5" fill="none" stroke="#1c1c1c" stroke-width="1.3"/></g></svg></body></html>
